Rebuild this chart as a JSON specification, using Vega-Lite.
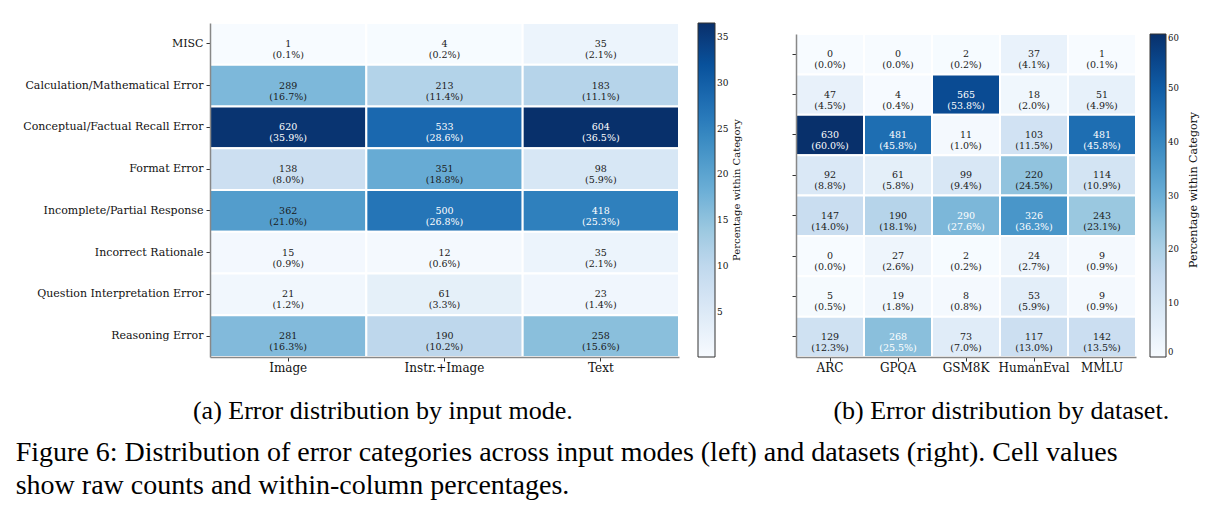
{
  "$schema": "https://vega.github.io/schema/vega-lite/v6.json",
  "background": "white",
  "padding": {"left": 15, "top": 22, "right": 5, "bottom": 5},
  "config": {
    "view": {"stroke": null},
    "axis": {
      "labelFont": "DejaVu Serif",
      "labelColor": "#111",
      "tickColor": "#333",
      "tickSize": 4,
      "domainColor": "#888",
      "domainWidth": 1.5,
      "grid": false,
      "labelLimit": 400
    },
    "axisX": {"labelFont": "DejaVu Serif", "labelFontSize": 12, "labelPadding": 1, "labelAngle": 0},
    "axisY": {"labelFont": "DejaVu Serif", "labelFontSize": 11, "labelPadding": 3},
    "legend": {
      "labelFont": "DejaVu Serif",
      "titleFont": "DejaVu Serif",
      "titleFontWeight": "normal",
      "titleColor": "#111",
      "labelColor": "#111",
      "gradientStrokeColor": "#333",
      "gradientStrokeWidth": 1,
      "labelOffset": 6,
      "titlePadding": 4,
      "padding": 0
    },
    "title": {"font": "Liberation Serif", "fontWeight": "normal", "color": "#000"}
  },
  "resolve": {"scale": {"color": "independent"}, "legend": {"color": "independent"}},
  "datasets": {
    "mode": [
      {"category": "MISC", "mode": "Image", "count": 1, "pct": 0.1},
      {"category": "MISC", "mode": "Instr.+Image", "count": 4, "pct": 0.2},
      {"category": "MISC", "mode": "Text", "count": 35, "pct": 2.1},
      {"category": "Calculation/Mathematical Error", "mode": "Image", "count": 289, "pct": 16.7},
      {"category": "Calculation/Mathematical Error", "mode": "Instr.+Image", "count": 213, "pct": 11.4},
      {"category": "Calculation/Mathematical Error", "mode": "Text", "count": 183, "pct": 11.1},
      {"category": "Conceptual/Factual Recall Error", "mode": "Image", "count": 620, "pct": 35.9},
      {"category": "Conceptual/Factual Recall Error", "mode": "Instr.+Image", "count": 533, "pct": 28.6},
      {"category": "Conceptual/Factual Recall Error", "mode": "Text", "count": 604, "pct": 36.5},
      {"category": "Format Error", "mode": "Image", "count": 138, "pct": 8.0},
      {"category": "Format Error", "mode": "Instr.+Image", "count": 351, "pct": 18.8},
      {"category": "Format Error", "mode": "Text", "count": 98, "pct": 5.9},
      {"category": "Incomplete/Partial Response", "mode": "Image", "count": 362, "pct": 21.0},
      {"category": "Incomplete/Partial Response", "mode": "Instr.+Image", "count": 500, "pct": 26.8},
      {"category": "Incomplete/Partial Response", "mode": "Text", "count": 418, "pct": 25.3},
      {"category": "Incorrect Rationale", "mode": "Image", "count": 15, "pct": 0.9},
      {"category": "Incorrect Rationale", "mode": "Instr.+Image", "count": 12, "pct": 0.6},
      {"category": "Incorrect Rationale", "mode": "Text", "count": 35, "pct": 2.1},
      {"category": "Question Interpretation Error", "mode": "Image", "count": 21, "pct": 1.2},
      {"category": "Question Interpretation Error", "mode": "Instr.+Image", "count": 61, "pct": 3.3},
      {"category": "Question Interpretation Error", "mode": "Text", "count": 23, "pct": 1.4},
      {"category": "Reasoning Error", "mode": "Image", "count": 281, "pct": 16.3},
      {"category": "Reasoning Error", "mode": "Instr.+Image", "count": 190, "pct": 10.2},
      {"category": "Reasoning Error", "mode": "Text", "count": 258, "pct": 15.6}
    ],
    "dataset": [
      {"category": "MISC", "dataset": "ARC", "count": 0, "pct": 0.0},
      {"category": "MISC", "dataset": "GPQA", "count": 0, "pct": 0.0},
      {"category": "MISC", "dataset": "GSM8K", "count": 2, "pct": 0.2},
      {"category": "MISC", "dataset": "HumanEval", "count": 37, "pct": 4.1},
      {"category": "MISC", "dataset": "MMLU", "count": 1, "pct": 0.1},
      {"category": "Calculation/Mathematical Error", "dataset": "ARC", "count": 47, "pct": 4.5},
      {"category": "Calculation/Mathematical Error", "dataset": "GPQA", "count": 4, "pct": 0.4},
      {"category": "Calculation/Mathematical Error", "dataset": "GSM8K", "count": 565, "pct": 53.8},
      {"category": "Calculation/Mathematical Error", "dataset": "HumanEval", "count": 18, "pct": 2.0},
      {"category": "Calculation/Mathematical Error", "dataset": "MMLU", "count": 51, "pct": 4.9},
      {"category": "Conceptual/Factual Recall Error", "dataset": "ARC", "count": 630, "pct": 60.0},
      {"category": "Conceptual/Factual Recall Error", "dataset": "GPQA", "count": 481, "pct": 45.8},
      {"category": "Conceptual/Factual Recall Error", "dataset": "GSM8K", "count": 11, "pct": 1.0},
      {"category": "Conceptual/Factual Recall Error", "dataset": "HumanEval", "count": 103, "pct": 11.5},
      {"category": "Conceptual/Factual Recall Error", "dataset": "MMLU", "count": 481, "pct": 45.8},
      {"category": "Format Error", "dataset": "ARC", "count": 92, "pct": 8.8},
      {"category": "Format Error", "dataset": "GPQA", "count": 61, "pct": 5.8},
      {"category": "Format Error", "dataset": "GSM8K", "count": 99, "pct": 9.4},
      {"category": "Format Error", "dataset": "HumanEval", "count": 220, "pct": 24.5},
      {"category": "Format Error", "dataset": "MMLU", "count": 114, "pct": 10.9},
      {"category": "Incomplete/Partial Response", "dataset": "ARC", "count": 147, "pct": 14.0},
      {"category": "Incomplete/Partial Response", "dataset": "GPQA", "count": 190, "pct": 18.1},
      {"category": "Incomplete/Partial Response", "dataset": "GSM8K", "count": 290, "pct": 27.6},
      {"category": "Incomplete/Partial Response", "dataset": "HumanEval", "count": 326, "pct": 36.3},
      {"category": "Incomplete/Partial Response", "dataset": "MMLU", "count": 243, "pct": 23.1},
      {"category": "Incorrect Rationale", "dataset": "ARC", "count": 0, "pct": 0.0},
      {"category": "Incorrect Rationale", "dataset": "GPQA", "count": 27, "pct": 2.6},
      {"category": "Incorrect Rationale", "dataset": "GSM8K", "count": 2, "pct": 0.2},
      {"category": "Incorrect Rationale", "dataset": "HumanEval", "count": 24, "pct": 2.7},
      {"category": "Incorrect Rationale", "dataset": "MMLU", "count": 9, "pct": 0.9},
      {"category": "Question Interpretation Error", "dataset": "ARC", "count": 5, "pct": 0.5},
      {"category": "Question Interpretation Error", "dataset": "GPQA", "count": 19, "pct": 1.8},
      {"category": "Question Interpretation Error", "dataset": "GSM8K", "count": 8, "pct": 0.8},
      {"category": "Question Interpretation Error", "dataset": "HumanEval", "count": 53, "pct": 5.9},
      {"category": "Question Interpretation Error", "dataset": "MMLU", "count": 9, "pct": 0.9},
      {"category": "Reasoning Error", "dataset": "ARC", "count": 129, "pct": 12.3},
      {"category": "Reasoning Error", "dataset": "GPQA", "count": 268, "pct": 25.5},
      {"category": "Reasoning Error", "dataset": "GSM8K", "count": 73, "pct": 7.0},
      {"category": "Reasoning Error", "dataset": "HumanEval", "count": 117, "pct": 13.0},
      {"category": "Reasoning Error", "dataset": "MMLU", "count": 142, "pct": 13.5}
    ]
  },
  "title": {
    "text": ["Figure 6: Distribution of error categories across input modes (left) and datasets (right). Cell values", "show raw counts and within-column percentages."],
    "orient": "bottom",
    "anchor": "start",
    "frame": "bounds",
    "fontSize": 28,
    "lineHeight": 33,
    "offset": 15,
    "dx": -7
  },
  "spacing": 48,
  "hconcat": [
    {
      "title": {"text": "(a) Error distribution by input mode.", "orient": "bottom", "anchor": "middle", "frame": "bounds", "fontSize": 26, "offset": 25},
      "width": 469,
      "height": 334,
      "data": {"name": "mode"},
      "transform": [{"calculate": "[format(datum.count, 'd'), '(' + format(datum.pct, '.1f') + '%)']", "as": "label"}],
      "encoding": {
        "x": {"field": "mode", "type": "nominal", "sort": ["Image", "Instr.+Image", "Text"], "axis": {"title": null, "labelFont": "DejaVu Serif"}},
        "y": {"field": "category", "type": "nominal", "sort": ["MISC", "Calculation/Mathematical Error", "Conceptual/Factual Recall Error", "Format Error", "Incomplete/Partial Response", "Incorrect Rationale", "Question Interpretation Error", "Reasoning Error"], "axis": {"title": null, "labelFont": "DejaVu Serif", "labelLimit": 400}}
      },
      "layer": [
        {
          "mark": {"type": "rect", "stroke": "white", "strokeWidth": 2},
          "encoding": {
            "color": {
              "field": "pct", "type": "quantitative",
              "scale": {"domain": [0.1, 4.65, 9.2, 13.75, 18.3, 22.85, 27.4, 31.95, 36.5], "range": ["#f7fbff", "#deebf7", "#c6dbef", "#9ecae1", "#6baed6", "#4292c6", "#2171b5", "#08519c", "#08306b"]},
              "legend": {"title": "Percentage within Category", "orient": "right", "direction": "vertical", "gradientLength": 334, "gradientThickness": 17, "values": [5, 10, 15, 20, 25, 30, 35], "labelFontSize": 9, "titleFontSize": 10, "titleOrient": "right", "titleAnchor": "middle", "offset": 19, "encode": {"title": {"update": {"angle": {"value": 270}, "baseline": {"value": "top"}}}}}
            }
          }
        },
        {
          "mark": {"type": "text", "font": "DejaVu Serif", "fontSize": 9.5, "lineHeight": 11, "baseline": "middle"},
          "encoding": {
            "text": {"field": "label"},
            "color": {"condition": {"test": "datum.pct > 25", "value": "white"}, "value": "#1a1a1a"}
          }
        }
      ]
    },
    {
      "title": {"text": "(b) Error distribution by dataset.", "orient": "bottom", "anchor": "middle", "frame": "bounds", "fontSize": 26, "offset": 25},
      "width": 340,
      "height": 334,
      "data": {"name": "dataset"},
      "transform": [{"calculate": "[format(datum.count, 'd'), '(' + format(datum.pct, '.1f') + '%)']", "as": "label"}],
      "encoding": {
        "x": {"field": "dataset", "type": "nominal", "sort": ["ARC", "GPQA", "GSM8K", "HumanEval", "MMLU"], "axis": {"title": null, "labelFont": "DejaVu Serif"}},
        "y": {"field": "category", "type": "nominal", "sort": ["MISC", "Calculation/Mathematical Error", "Conceptual/Factual Recall Error", "Format Error", "Incomplete/Partial Response", "Incorrect Rationale", "Question Interpretation Error", "Reasoning Error"], "scale": {"range": [11, 334]}, "axis": {"title": null, "labels": false}}
      },
      "layer": [
        {
          "mark": {"type": "rect", "stroke": "white", "strokeWidth": 2},
          "encoding": {
            "color": {
              "field": "pct", "type": "quantitative",
              "scale": {"domain": [0, 7.5, 15, 22.5, 30, 37.5, 45, 52.5, 60], "range": ["#f7fbff", "#deebf7", "#c6dbef", "#9ecae1", "#6baed6", "#4292c6", "#2171b5", "#08519c", "#08306b"]},
              "legend": {"title": "Percentage within Category", "orient": "right", "direction": "vertical", "gradientLength": 323, "gradientThickness": 16, "values": [0, 10, 20, 30, 40, 50, 60], "labelFontSize": 8.5, "titleFontSize": 11, "titleOrient": "right", "titleAnchor": "middle", "titlePadding": 9, "offset": 3, "padding": 11, "encode": {"title": {"update": {"angle": {"value": 270}, "baseline": {"value": "top"}}}}}
            }
          }
        },
        {
          "mark": {"type": "text", "font": "DejaVu Serif", "fontSize": 9.5, "lineHeight": 11, "baseline": "middle"},
          "encoding": {
            "text": {"field": "label"},
            "color": {"condition": {"test": "datum.pct > 25", "value": "white"}, "value": "#1a1a1a"}
          }
        }
      ]
    }
  ]
}
